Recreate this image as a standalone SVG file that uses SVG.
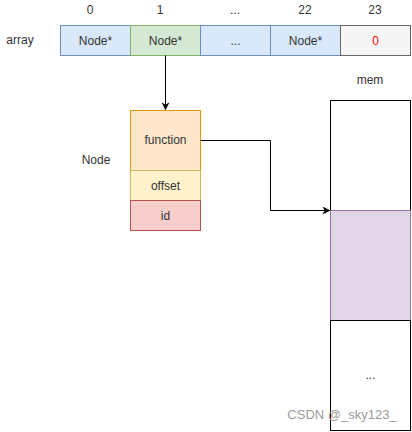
<svg xmlns="http://www.w3.org/2000/svg" width="412" height="432" viewBox="0 0 412 432">
<style>
text{font-family:"Liberation Sans",Arial,sans-serif;font-size:12px;fill:#333;text-anchor:middle;dominant-baseline:central}
.blue{fill:#dae8fc;stroke:#6c8ebf}
.green{fill:#d5e8d4;stroke:#82b366}
.gray{fill:#f5f5f5;stroke:#666666}
.orange{fill:#ffe6cc;stroke:#d79b00}
.yellow{fill:#fff2cc;stroke:#d6b656}
.red{fill:#f8cecc;stroke:#b85450}
.purple{fill:#e1d5e7;stroke:#9673a6}
.white{fill:#fff;stroke:#000}
.conn{fill:none;stroke:#000;stroke-width:1}
</style>
<defs>
<marker id="arr" viewBox="0 0 10 10" refX="9" refY="5" markerWidth="8" markerHeight="8" markerUnits="userSpaceOnUse" orient="auto">
<path d="M0,0 L10,5 L0,10 L3,5 Z" fill="#000"/>
</marker>
</defs>
<rect width="412" height="432" fill="#fff"/>
<g id="labels">
<text x="90" y="10">0</text>
<text x="160" y="10">1</text>
<text x="235" y="10">...</text>
<text x="305" y="10">22</text>
<text x="375" y="10">23</text>
<text x="20" y="40">array</text>
<text x="370" y="80">mem</text>
<text x="96" y="160">Node</text>
</g>
<g id="array">
<g id="cell0"><rect class="blue" x="60.5" y="25.5" width="70" height="30"/><text x="95.5" y="40.5">Node*</text></g>
<g id="cell1"><rect class="green" x="130.5" y="25.5" width="70" height="30"/><text x="165.5" y="40.5">Node*</text></g>
<g id="cell2"><rect class="blue" x="200.5" y="25.5" width="70" height="30"/><text x="235.5" y="40.5">...</text></g>
<g id="cell22"><rect class="blue" x="270.5" y="25.5" width="70" height="30"/><text x="305.5" y="40.5">Node*</text></g>
<g id="cell23"><rect class="gray" x="340.5" y="25.5" width="70" height="30"/><text x="375.5" y="40.5" style="fill:#FF0000">0</text></g>
</g>
<g id="node">
<g id="function"><rect class="orange" x="130.5" y="110.5" width="70" height="60"/><text x="165.5" y="140">function</text></g>
<g id="offset"><rect class="yellow" x="130.5" y="170.5" width="70" height="30"/><text x="165.5" y="185.5">offset</text></g>
<g id="id"><rect class="red" x="130.5" y="200.5" width="70" height="30"/><text x="165.5" y="215.5">id</text></g>
</g>
<g id="mem">
<rect class="white" x="330.5" y="100.5" width="80" height="110"/>
<rect class="purple" x="330.5" y="210.5" width="80" height="110"/>
<rect class="white" x="330.5" y="320.5" width="80" height="110"/>
<text x="370.5" y="375">...</text>
</g>
<g id="connectors">
<path class="conn" d="M165.5,55.5 V109.5" marker-end="url(#arr)"/>
<path class="conn" d="M200.5,140.5 H270.5 V210.5 H329.5" marker-end="url(#arr)"/>
</g>
<text x="342" y="414" style="fill:#9a9a9a;font-size:13px">CSDN @_sky123_</text>
</svg>
